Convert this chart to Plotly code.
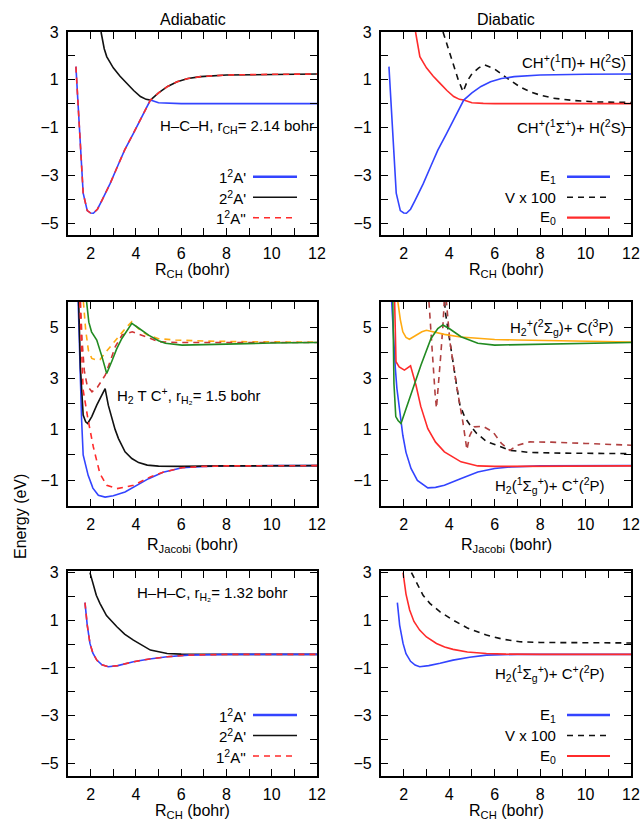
import plotly.graph_objects as go
from plotly.subplots import make_subplots

# ---------------- dados ----------------
# painel 1: H-C-H adiabatico
TL_X_1AP = [1.35, 1.5, 1.67, 1.85, 2.0, 2.12, 2.3, 2.5, 2.86, 3.2, 3.5, 3.89, 4.2, 4.45, 4.64, 5.0, 5.5, 6.0, 8.0, 12.0]
TL_Y_1AP = [1.55, -1.0, -3.75, -4.48, -4.58, -4.59, -4.42, -4.05, -3.35, -2.6, -1.95, -1.24, -0.67, -0.22, 0.15, 0.04, 0.01, 0.0, 0.0, 0.0]
TL_X_2AP = [2.46, 2.6, 2.71, 3.0, 3.3, 3.6, 3.9, 4.2, 4.45, 4.64, 5.0, 5.4, 5.82, 6.3, 6.86, 8.0, 10.0, 12.0]
TL_Y_2AP = [3.0, 2.3, 1.97, 1.5, 1.15, 0.85, 0.55, 0.3, 0.18, 0.15, 0.45, 0.72, 0.92, 1.05, 1.13, 1.2, 1.23, 1.24]
TL_X_1APP = [1.35, 1.5, 1.67, 1.85, 2.0, 2.12, 2.3, 2.5, 2.86, 3.2, 3.5, 3.89, 4.2, 4.45, 4.64, 5.0, 5.4, 5.82, 6.3, 6.86, 8.0, 10.0, 12.0]
TL_Y_1APP = [1.55, -1.0, -3.75, -4.48, -4.58, -4.59, -4.42, -4.05, -3.35, -2.6, -1.95, -1.24, -0.67, -0.22, 0.15, 0.45, 0.72, 0.92, 1.05, 1.13, 1.2, 1.23, 1.24]

# painel 2: H-C-H diabatico
TR_X_E1 = TL_X_1APP
TR_Y_E1 = TL_Y_1APP
TR_X_E0 = [2.52, 2.71, 3.0, 3.3, 3.6, 3.9, 4.2, 4.45, 4.64, 5.0, 5.5, 6.0, 8.0, 12.0]
TR_Y_E0 = [3.0, 1.97, 1.5, 1.15, 0.85, 0.55, 0.3, 0.18, 0.15, 0.04, 0.01, 0.0, 0.0, 0.0]
TR_X_V = [3.73, 4.0, 4.2, 4.4, 4.61, 4.8, 5.0, 5.3, 5.57, 6.0, 6.5, 7.1, 7.6, 8.0, 8.57, 9.5, 10.5, 12.0]
TR_Y_V = [3.0, 2.2, 1.6, 1.0, 0.5, 0.95, 1.25, 1.5, 1.62, 1.45, 1.1, 0.71, 0.48, 0.36, 0.23, 0.13, 0.07, 0.05]

# painel 3: H2 T C+ adiabatico
ML_X_BLUE = [1.45, 1.52, 1.6, 1.67, 1.78, 1.89, 2.1, 2.34, 2.64, 3.0, 3.52, 4.0, 4.56, 5.2, 6.04, 7.0, 8.0, 10.0, 12.0]
ML_Y_BLUE = [6.0, 3.65, 1.4, 0.0, -0.45, -0.8, -1.3, -1.58, -1.65, -1.6, -1.45, -1.2, -0.93, -0.68, -0.5, -0.45, -0.43, -0.42, -0.42]
ML_X_BLACK = [1.47, 1.55, 1.67, 1.78, 1.87, 2.05, 2.27, 2.45, 2.64, 2.78, 2.93, 3.08, 3.23, 3.52, 3.82, 4.12, 4.5, 5.0, 6.0, 8.0, 12.0]
ML_Y_BLACK = [6.0, 3.4, 1.56, 1.3, 1.23, 1.5, 1.95, 2.3, 2.6, 1.95, 1.43, 1.0, 0.64, 0.12, -0.14, -0.3, -0.4, -0.44, -0.45, -0.43, -0.42]
ML_X_GREEN = [1.82, 1.92, 2.04, 2.15, 2.27, 2.5, 2.71, 2.95, 3.15, 3.38, 3.6, 3.82, 4.1, 4.56, 5.0, 5.3, 6.04, 7.0, 8.0, 10.0, 12.0]
ML_Y_GREEN = [6.0, 5.2, 4.82, 4.65, 4.5, 3.85, 3.19, 3.7, 4.15, 4.56, 4.88, 5.15, 4.98, 4.69, 4.47, 4.37, 4.3, 4.31, 4.34, 4.38, 4.4]
ML_X_ORANGE = [1.68, 1.78, 1.9, 2.05, 2.25, 2.41, 2.6, 2.86, 3.2, 3.6, 3.82, 4.1, 4.5, 5.0, 5.75, 7.0, 9.0, 12.0]
ML_Y_ORANGE = [6.0, 4.9, 4.1, 3.78, 3.72, 3.73, 3.95, 4.24, 4.6, 5.02, 5.22, 4.95, 4.7, 4.55, 4.5, 4.46, 4.43, 4.42]
ML_X_RED = [1.52, 1.58, 1.67, 1.89, 2.12, 2.41, 2.71, 3.16, 3.89, 4.64, 5.2, 6.04, 7.0, 8.0, 10.0, 12.0]
ML_Y_RED = [6.0, 4.4, 2.54, 1.36, 0.31, -0.73, -1.19, -1.32, -1.19, -0.86, -0.68, -0.5, -0.45, -0.43, -0.42, -0.42]
ML_X_RED2 = [1.55, 1.62, 1.72, 1.85, 2.06, 2.3, 2.65, 3.09, 3.39, 3.84, 4.43, 5.02, 6.0, 8.0, 12.0]
ML_Y_RED2 = [6.0, 4.5, 3.3, 2.7, 2.47, 2.65, 3.13, 4.24, 4.7, 4.82, 4.63, 4.43, 4.4, 4.4, 4.4]

# painel 4: H2 T C+ diabatico
MR_X_BLUE = [1.47, 1.55, 1.63, 1.7, 1.8, 1.96, 2.1, 2.32, 2.6, 3.06, 3.4, 3.79, 4.5, 5.26, 6.0, 6.73, 8.0, 12.0]
MR_Y_BLUE = [6.0, 4.6, 3.4, 2.6, 1.8, 0.77, 0.1, -0.53, -1.0, -1.29, -1.27, -1.19, -0.93, -0.67, -0.53, -0.47, -0.43, -0.42]
MR_X_RED = [1.6, 1.62, 1.66, 1.8, 2.03, 2.3, 2.54, 2.75, 3.06, 3.4, 3.79, 4.52, 5.26, 6.0, 8.0, 12.0]
MR_Y_RED = [6.0, 4.3, 3.65, 3.45, 3.32, 3.49, 2.73, 1.9, 1.03, 0.5, 0.12, -0.27, -0.43, -0.45, -0.44, -0.43]
MR_X_GREEN = [1.52, 1.54, 1.57, 1.65, 1.75, 1.88, 2.1, 2.32, 2.76, 3.2, 3.5, 3.72, 4.0, 4.52, 5.26, 6.0, 8.0, 12.0]
MR_Y_GREEN = [6.0, 4.0, 2.8, 1.5, 1.35, 1.23, 1.8, 2.34, 3.52, 4.56, 4.95, 5.09, 4.95, 4.63, 4.37, 4.3, 4.33, 4.4]
MR_X_ORANGE = [1.74, 1.85, 1.96, 2.1, 2.25, 2.5, 2.8, 3.0, 3.4, 3.79, 4.5, 5.26, 6.0, 7.0, 9.0, 12.0]
MR_Y_ORANGE = [6.0, 5.3, 4.82, 4.6, 4.53, 4.65, 4.82, 4.88, 4.8, 4.72, 4.62, 4.56, 4.52, 4.5, 4.46, 4.42]
MR_X_V1 = [3.11, 3.2, 3.3, 3.38, 3.44, 3.52, 3.62, 3.72, 3.82, 4.03, 4.17, 4.32, 4.47, 4.6, 4.78, 4.9, 5.1, 5.49, 5.93, 6.3, 6.67, 7.0, 7.55, 8.5, 10.0, 12.0]
MR_Y_V1 = [6.0, 4.7, 3.4, 2.4, 1.83, 2.6, 3.8, 5.0, 6.6, 4.45, 3.53, 2.75, 1.96, 1.3, 0.2, 0.75, 1.1, 1.12, 0.9, 0.45, 0.18, 0.38, 0.51, 0.5, 0.45, 0.38]
MR_X_V0 = [3.8, 3.83, 4.03, 4.17, 4.32, 4.47, 4.7, 4.91, 5.2, 5.64, 6.23, 6.67, 7.5, 9.0, 12.0]
MR_Y_V0 = [6.0, 5.6, 4.45, 3.53, 2.75, 1.96, 1.45, 1.18, 0.85, 0.53, 0.33, 0.18, 0.1, 0.07, 0.05]

# painel 5: H-H-C adiabatico
BL_X_1AP = [1.75, 1.85, 1.97, 2.1, 2.27, 2.5, 2.78, 3.2, 3.89, 4.6, 5.38, 6.3, 8.0, 12.0]
BL_Y_1AP = [1.74, 0.8, 0.03, -0.38, -0.67, -0.87, -0.95, -0.9, -0.74, -0.62, -0.53, -0.46, -0.43, -0.43]
BL_X_2AP = [1.97, 2.1, 2.25, 2.41, 2.7, 3.16, 3.5, 3.89, 4.3, 4.64, 5.38, 6.0, 8.0, 12.0]
BL_Y_2AP = [3.0, 2.5, 2.05, 1.71, 1.2, 0.73, 0.42, 0.17, -0.07, -0.25, -0.39, -0.42, -0.43, -0.43]

# painel 6: H-H-C diabatico
BR_X_E1 = [1.72, 1.82, 1.97, 2.1, 2.3, 2.5, 2.7, 3.1, 3.6, 4.17, 4.9, 5.64, 7.0, 12.0]
BR_Y_E1 = [1.74, 0.8, 0.03, -0.4, -0.72, -0.88, -0.95, -0.9, -0.8, -0.67, -0.55, -0.46, -0.43, -0.43]
BR_X_E0 = [1.97, 2.1, 2.26, 2.45, 2.7, 3.0, 3.44, 3.8, 4.17, 4.8, 5.64, 6.5, 8.0, 12.0]
BR_Y_E0 = [3.0, 2.1, 1.43, 0.95, 0.59, 0.3, 0.03, -0.12, -0.22, -0.33, -0.39, -0.42, -0.43, -0.43]
BR_X_V = [2.34, 2.6, 2.85, 3.15, 3.6, 4.17, 4.8, 5.64, 6.4, 7.11, 8.0, 10.0, 12.0]
BR_Y_V = [3.0, 2.5, 2.05, 1.71, 1.35, 1.01, 0.68, 0.38, 0.2, 0.1, 0.07, 0.06, 0.05]

X_TICKS = list(range(1, 13))
Y_TICKS_WIDE = list(range(-5, 4))
Y_TICKS_MID = list(range(-1, 6))

# ---------------- estilo ----------------
W, H = 641, 824
FONT = "Liberation Sans, Arial, sans-serif"
BLUE = "#3344ff"
RED = "#ff2b2b"
BLACK = "#111111"
GREEN = "#228b22"
ORANGE = "#ffaa11"
BROWN = "#b04040"
DASH = "6px,5px"


def fx(px):
    return px / W


def fy(py):
    return 1 - py / H


def lbl(v):
    return str(v).replace("-", "\u2212")


fig = make_subplots(rows=3, cols=2)


def curva(x, y, cor, row, col, dash="solid", width=1.6):
    fig.add_trace(go.Scatter(x=x, y=y, mode="lines", showlegend=False,
                             line=dict(color=cor, width=width, dash=dash)),
                  row=row, col=col)


# painel 1
curva(TL_X_2AP, TL_Y_2AP, BLACK, 1, 1)
curva(TL_X_1AP, TL_Y_1AP, BLUE, 1, 1)
curva(TL_X_1APP, TL_Y_1APP, RED, 1, 1, DASH)
# painel 2
curva(TR_X_V, TR_Y_V, BLACK, 1, 2, DASH)
curva(TR_X_E0, TR_Y_E0, RED, 1, 2)
curva(TR_X_E1, TR_Y_E1, BLUE, 1, 2)
# painel 3
curva(ML_X_BLUE, ML_Y_BLUE, BLUE, 2, 1)
curva(ML_X_BLACK, ML_Y_BLACK, BLACK, 2, 1)
curva(ML_X_ORANGE, ML_Y_ORANGE, ORANGE, 2, 1, DASH)
curva(ML_X_RED2, ML_Y_RED2, "#d03535", 2, 1, DASH)
curva(ML_X_GREEN, ML_Y_GREEN, GREEN, 2, 1)
curva(ML_X_RED, ML_Y_RED, RED, 2, 1, DASH)
# painel 4
curva(MR_X_V0, MR_Y_V0, BLACK, 2, 2, DASH)
curva(MR_X_V1, MR_Y_V1, BROWN, 2, 2, DASH)
curva(MR_X_BLUE, MR_Y_BLUE, BLUE, 2, 2)
curva(MR_X_RED, MR_Y_RED, RED, 2, 2)
curva(MR_X_ORANGE, MR_Y_ORANGE, ORANGE, 2, 2)
curva(MR_X_GREEN, MR_Y_GREEN, GREEN, 2, 2)
# painel 5
curva(BL_X_2AP, BL_Y_2AP, BLACK, 3, 1)
curva(BL_X_1AP, BL_Y_1AP, BLUE, 3, 1)
curva(BL_X_1AP, BL_Y_1AP, RED, 3, 1, DASH)
# painel 6
curva(BR_X_V, BR_Y_V, BLACK, 3, 2, DASH)
curva(BR_X_E1, BR_Y_E1, BLUE, 3, 2)
curva(BR_X_E0, BR_Y_E0, RED, 3, 2)

# posicoes dos paineis (pixels da imagem)
COLS = [(68, 317), (381, 631)]
ROWS = [(32, 235), (301.7, 506), (570.7, 776)]
YRANGES = [[-5.5, 3.0], [-2.0, 6.0], [-5.53, 3.08]]
YTICKS = [Y_TICKS_WIDE, Y_TICKS_MID, Y_TICKS_WIDE]

eixo = dict(showline=True, linewidth=2.2, linecolor="black", mirror="ticks",
            ticks="inside", ticklen=7, tickwidth=1.3, tickcolor="black",
            showgrid=False, zeroline=False, automargin=False,
            ticklabeloverflow="allow",
            tickfont=dict(family=FONT, size=16, color="black"))

for r in range(3):
    for c in range(2):
        n = r * 2 + c + 1
        sx = "" if n == 1 else str(n)
        x0, x1 = COLS[c]
        y0, y1 = ROWS[r]
        fig.layout["xaxis" + sx].update(
            domain=[fx(x0), fx(x1)], range=[1, 12],
            tickvals=X_TICKS, ticktext=[str(v) if v % 2 == 0 else "" for v in X_TICKS],
            ticklabelstandoff=3, **eixo)
        fig.layout["yaxis" + sx].update(
            domain=[fy(y1), fy(y0)], range=YRANGES[r],
            tickvals=YTICKS[r], ticktext=[lbl(v) if v % 2 else "" for v in YTICKS[r]],
            ticklabelstandoff=4, **eixo)

anot = []


def texto(t, px, py, xanchor="center", size=16, angle=0):
    anot.append(dict(text=t, x=fx(px), y=fy(py), xref="paper", yref="paper",
                     xanchor=xanchor, yanchor="middle", showarrow=False, textangle=angle,
                     font=dict(family=FONT, size=size, color="black")))


texto("Adiabatic", 193, 19)
texto("Diabatic", 506, 19)
texto("R<sub>CH</sub> (bohr)", 192.5, 270)
texto("R<sub>CH</sub> (bohr)", 506, 270)
texto("R<sub>Jacobi</sub> (bohr)", 192.5, 545)
texto("R<sub>Jacobi</sub> (bohr)", 506, 545)
texto("R<sub>CH</sub> (bohr)", 192.5, 811)
texto("R<sub>CH</sub> (bohr)", 506, 811)
texto("Energy (eV)", 20, 517, angle=-90)

texto("H\u2013C\u2013H, r<sub>CH</sub>= 2.14 bohr", 158, 127, "left", 15)
texto("CH<sup>+</sup>(<sup>1</sup>\u03a0)+ H(<sup>2</sup>S)", 628, 62, "right", 15)
texto("CH<sup>+</sup>(<sup>1</sup>\u03a3<sup>+</sup>)+ H(<sup>2</sup>S)", 628, 126, "right", 15)
texto("H<sub>2</sub> T C<sup>+</sup>, r<sub>H\u2082</sub>= 1.5 bohr", 115, 395, "left", 15)
texto("H<sub>2</sub><sup>+</sup>(<sup>2</sup>\u03a3<sub>g</sub>)+ C(<sup>3</sup>P)", 615, 327, "right", 15)
texto("H<sub>2</sub>(<sup>1</sup>\u03a3<sub>g</sub><sup>+</sup>)+ C<sup>+</sup>(<sup>2</sup>P)", 607, 486, "right", 15)
texto("H\u2013H\u2013C, r<sub>H\u2082</sub>= 1.32 bohr", 135, 593, "left", 15)
texto("H<sub>2</sub>(<sup>1</sup>\u03a3<sub>g</sub><sup>+</sup>)+ C<sup>+</sup>(<sup>2</sup>P)", 607, 673, "right", 15)

# chaves (estilo gnuplot: texto a esquerda, amostra a direita)
formas = []


def chave(t, xt, xa, xb, py, cor, dash="solid", width=2.6):
    texto(t, xt, py, "right", 15)
    formas.append(dict(type="line", xref="paper", yref="paper",
                       x0=fx(xa), x1=fx(xb), y0=fy(py), y1=fy(py),
                       line=dict(color=cor, width=width, dash=dash)))


for base in (176.7, 715):
    chave("1<sup>2</sup>A'", 248, 253, 297, base, BLUE)
    chave("2<sup>2</sup>A'", 248, 253, 297, base + 20.5, BLACK, width=1.6)
    chave("1<sup>2</sup>A''", 248, 253, 297, base + 41, RED, DASH, 1.6)
    chave("E<sub>1</sub>", 558, 567, 610, base, BLUE)
    chave("V x 100", 558, 567, 610, base + 20.5, BLACK, DASH, 1.6)
    chave("E<sub>0</sub>", 558, 567, 610, base + 41, RED, width=2.2)

fig.update_layout(width=W, height=H, margin=dict(l=0, r=0, t=0, b=0),
                  paper_bgcolor="white", plot_bgcolor="white",
                  annotations=anot, shapes=formas, showlegend=False,
                  font=dict(family=FONT, size=16, color="black"))

# tira a margem padrao do body para a figura ocupar a janela inteira
fig.write_html("out.html", config={"displayModeBar": False},
               post_script="document.body.style.margin='0';document.body.style.overflow='hidden';")
